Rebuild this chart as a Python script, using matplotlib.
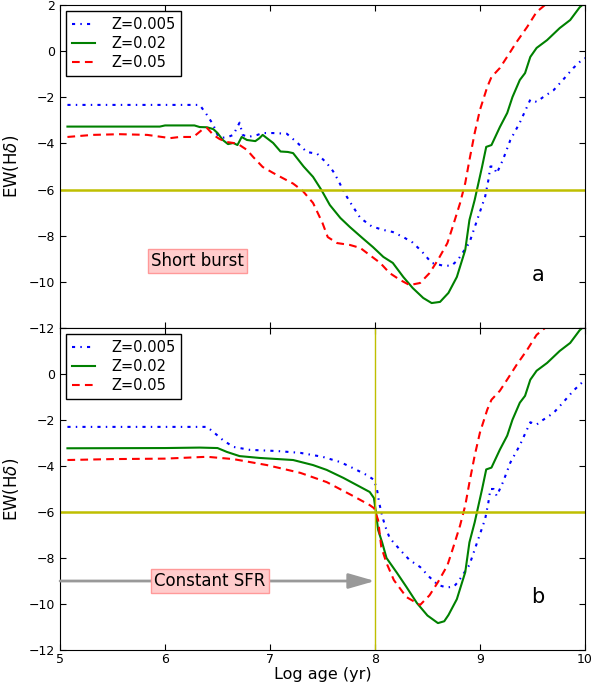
import numpy as np
import matplotlib.pyplot as plt

# EW(Hdelta) versus log age for three metallicities
labels = ['Z=0.005', 'Z=0.02', 'Z=0.05']

# tails after the minimum are the same for both star formation histories
tail_x_005 = [8.79, 8.90, 8.96, 9.05, 9.08, 9.10, 9.13, 9.16, 9.22, 9.29, 9.38,
              9.45, 9.48, 9.54, 9.60, 9.70, 9.79, 9.89, 9.98, 10.0]
tail_y_005 = [-9.05, -8.3, -7.5, -6.3, -5.6, -5.0, -5.0, -5.3, -4.7, -3.85, -3.1,
              -2.4, -2.1, -2.2, -2.0, -1.7, -1.25, -0.73, -0.34, -0.3]
tail_x_02 = [8.78, 8.86, 8.90, 8.95, 9.02, 9.06, 9.11, 9.19, 9.26, 9.31, 9.38,
             9.43, 9.48, 9.54, 9.64, 9.76, 9.86, 9.95, 10.0]
tail_y_02 = [-9.79, -8.62, -7.32, -6.45, -5.02, -4.15, -4.07, -3.29, -2.68, -1.99, -1.25,
             -0.95, -0.25, 0.14, 0.48, 1.0, 1.35, 1.9, 2.1]
tail_x_05 = [8.52, 8.60, 8.69, 8.74, 8.81, 8.86, 8.90, 8.95, 9.00, 9.07, 9.11,
             9.19, 9.27, 9.35, 9.45, 9.54, 9.62, 9.80, 10.0]
tail_y_05 = [-9.62, -9.05, -8.32, -7.62, -6.6, -5.72, -4.72, -3.55, -2.55, -1.55, -1.12,
             -0.73, -0.17, 0.4, 1.05, 1.7, 2.0, 2.6, 3.1]

# (a) short burst
burst_x_005 = [5.07, 6.33, 6.40, 6.46, 6.50, 6.55, 6.60, 6.65, 6.71, 6.74, 6.79, 6.88,
               6.93, 7.03, 7.16, 7.26, 7.35, 7.45, 7.54, 7.60, 7.65, 7.71, 7.78, 7.86,
               7.97, 8.08, 8.17, 8.27, 8.36, 8.45, 8.54, 8.65, 8.73] + tail_x_005
burst_y_005 = [-2.33, -2.33, -2.77, -3.2, -3.63, -3.75, -3.72, -3.63, -3.1, -3.63, -3.72, -3.63,
               -3.55, -3.55, -3.58, -3.97, -4.37, -4.45, -4.85, -5.2, -5.6, -6.15, -6.67, -7.23,
               -7.6, -7.75, -7.84, -8.06, -8.3, -8.7, -9.18, -9.3, -9.3] + tail_y_005
burst_x_02 = [5.07, 5.95, 6.0, 6.28, 6.33, 6.40, 6.46, 6.50, 6.55, 6.60, 6.65, 6.69,
              6.73, 6.78, 6.86, 6.90, 6.93, 7.03, 7.10, 7.17, 7.22, 7.32, 7.41, 7.49,
              7.57, 7.67, 7.76, 7.88, 7.98, 8.08, 8.17, 8.27, 8.36, 8.46, 8.54, 8.62,
              8.70] + tail_x_02
burst_y_02 = [-3.27, -3.27, -3.22, -3.22, -3.29, -3.3, -3.38, -3.55, -3.85, -4.03, -3.98, -4.07,
              -3.72, -3.85, -3.9, -3.77, -3.63, -3.98, -4.35, -4.37, -4.42, -5.0, -5.45, -6.02,
              -6.67, -7.23, -7.62, -8.1, -8.49, -8.92, -9.18, -9.79, -10.27, -10.7, -10.92, -10.87,
              -10.48] + tail_y_02
burst_x_05 = [5.07, 5.31, 5.57, 5.83, 6.05, 6.14, 6.27, 6.35, 6.40, 6.46, 6.52, 6.59,
              6.65, 6.71, 6.78, 6.84, 6.93, 7.03, 7.12, 7.22, 7.31, 7.41, 7.50, 7.55,
              7.64, 7.76, 7.86, 7.95, 8.05, 8.14, 8.24, 8.33, 8.43] + tail_x_05
burst_y_05 = [-3.72, -3.63, -3.6, -3.63, -3.77, -3.72, -3.72, -3.42, -3.33, -3.63, -3.81, -3.94,
              -3.98, -4.07, -4.28, -4.59, -5.02, -5.28, -5.5, -5.74, -6.05, -6.58, -7.45, -8.06,
              -8.32, -8.4, -8.53, -8.84, -9.18, -9.62, -9.92, -10.14, -10.05] + tail_y_05

# (b) constant star formation rate
const_x_005 = [5.07, 6.40, 6.46, 6.55, 6.65, 6.81, 7.07, 7.29, 7.50, 7.67, 7.79, 7.92,
               7.99, 8.02, 8.04, 8.07, 8.10, 8.14, 8.24, 8.33, 8.43, 8.52, 8.60, 8.68,
               8.75] + tail_x_005
const_y_005 = [-2.3, -2.3, -2.52, -2.87, -3.17, -3.3, -3.35, -3.43, -3.6, -3.83, -4.09, -4.39,
               -4.6, -5.04, -5.6, -6.2, -6.65, -7.13, -7.65, -8.09, -8.39, -8.83, -9.17, -9.28,
               -9.25] + tail_y_005
const_x_02 = [5.07, 6.0, 6.33, 6.50, 6.59, 6.71, 6.90, 7.22, 7.41, 7.54, 7.70, 7.86,
              7.95, 7.99, 8.01, 8.03, 8.07, 8.11, 8.21, 8.30, 8.40, 8.50, 8.60, 8.66,
              8.70] + tail_x_02
const_y_02 = [-3.23, -3.22, -3.2, -3.22, -3.39, -3.57, -3.65, -3.74, -3.96, -4.17, -4.52, -4.91,
              -5.13, -5.39, -6.04, -6.78, -7.35, -8.0, -8.65, -9.26, -9.96, -10.5, -10.83, -10.75,
              -10.48] + tail_y_02
const_x_05 = [5.07, 5.5, 6.0, 6.40, 6.65, 6.97, 7.29, 7.54, 7.79, 7.95, 7.99, 8.03,
              8.06, 8.11, 8.18, 8.30, 8.43] + tail_x_05
const_y_05 = [-3.74, -3.7, -3.68, -3.6, -3.7, -3.96, -4.3, -4.7, -5.3, -5.7, -5.83, -6.35,
              -7.52, -8.22, -8.96, -9.7, -10.04] + tail_y_05

styles = [dict(color='b', ls=(0, (1.5, 2.5, 0.7, 2.5))),
          dict(color='g', ls='-'),
          dict(color='r', ls=(0, (3.7, 2.5)))]

fig = plt.figure(figsize=(5.95, 6.88), dpi=100)
ax1 = fig.add_axes([0.101, 0.5233, 0.882, 0.4694])
ax2 = fig.add_axes([0.101, 0.0552, 0.882, 0.4681], sharex=ax1)

panels = [(ax1, [(burst_x_005, burst_y_005), (burst_x_02, burst_y_02), (burst_x_05, burst_y_05)], 'a'),
          (ax2, [(const_x_005, const_y_005), (const_x_02, const_y_02), (const_x_05, const_y_05)], 'b')]

for ax, curves, tag in panels:
    for (x, y), st, lab in zip(curves, styles, labels):
        ax.plot(x, y, lw=1.5, label=lab, **st)
    ax.axhline(-6, color='y', lw=1.8)
    ax.set_xlim(5, 10)
    ax.set_ylim(-12, 2)
    ax.set_yticks(np.arange(-12, 3, 2))
    ax.set_ylabel(r'EW(H$\delta$)', fontsize=12, labelpad=6)
    ax.tick_params(direction='in', top=True, right=True, labelsize=9, length=4)
    ax.tick_params(axis='x', pad=2)
    ax.text(9.55, -9.7, tag, fontsize=15, ha='center', va='center')
    leg = ax.legend(loc='upper left', fontsize=10.5, fancybox=False, edgecolor='k',
                    framealpha=1, handlelength=1.6, handletextpad=1.1,
                    labelspacing=0.3, borderaxespad=0.4)
    leg.get_frame().set_linewidth(1.0)

box = dict(boxstyle='square,pad=0.2', fc='#ffcccc', ec='#ff9999')
ax1.text(6.31, -9.1, 'Short burst', fontsize=12, ha='center', va='center', bbox=box)
plt.setp(ax1.get_xticklabels(), visible=False)

ax2.axvline(8, color='y', lw=1.0)
ax2.annotate('', xy=(8, -9), xytext=(5, -9),
             arrowprops=dict(arrowstyle='-|>,head_length=0.8,head_width=0.23',
                             mutation_scale=20, color='0.6', lw=2,
                             shrinkA=0, shrinkB=0))
ax2.text(6.43, -9.0, 'Constant SFR', fontsize=12, ha='center', va='center', bbox=box)
ax2.set_xlabel('Log age (yr)', fontsize=11.5, labelpad=1)
ax2.yaxis.get_major_ticks()[-1].label1.set_visible(False)

fig.savefig('out.png', dpi=100)
